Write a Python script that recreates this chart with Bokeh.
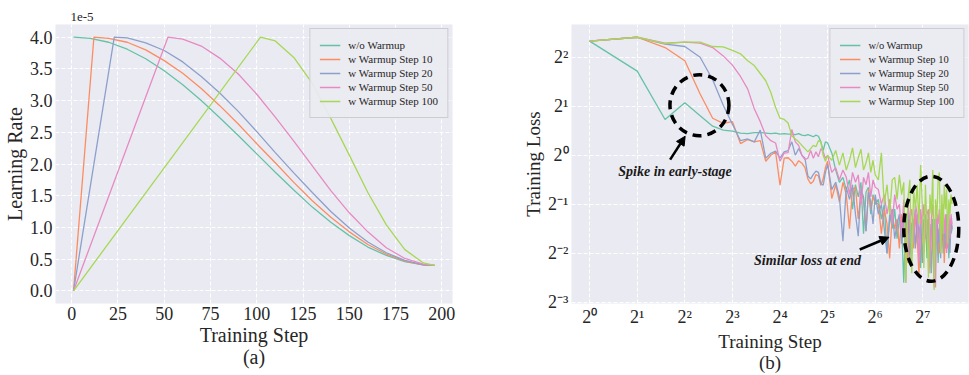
from bokeh.plotting import figure
from bokeh.layouts import row
from bokeh.models import (FixedTicker, CustomJSTickFormatter, PrintfTickFormatter,
                          Arrow, NormalHead, Label)
from bokeh.embed import file_html
from bokeh.resources import INLINE

FONT = "Liberation Serif"
TXT = "#262626"
BG = "#EAEAF2"
COLORS = ["#66c2a5", "#fc8d62", "#8da0cb", "#e78ac3", "#a6d854"]
NAMES = ["w/o Warmup", "w Warmup Step 10", "w Warmup Step 20",
         "w Warmup Step 50", "w Warmup Step 100"]

# ---------------- (a) learning rate, in units of 1e-5 ----------------
LR_X_NO = [1, 10, 20, 30, 40, 50, 60, 70, 80, 90, 100, 110, 120, 130, 140, 150, 160, 170, 180, 190, 196]
LR_NO = [4.00, 3.98, 3.92, 3.81, 3.66, 3.47, 3.25, 3.00, 2.73, 2.45, 2.16, 1.87, 1.59, 1.32, 1.08,
         0.87, 0.69, 0.56, 0.46, 0.41, 0.40]
LR_X_W10 = [1, 12, 20, 30, 40, 50, 60, 70, 80, 90, 100, 110, 120, 130, 140, 150, 160, 170, 180, 190, 196]
LR_W10 = [0.00, 4.00, 3.98, 3.92, 3.80, 3.63, 3.43, 3.19, 2.92, 2.63, 2.32, 2.02, 1.71, 1.42, 1.16,
          0.93, 0.73, 0.58, 0.47, 0.41, 0.40]
LR_X_W20 = [1, 23, 30, 40, 50, 60, 70, 80, 90, 100, 110, 120, 130, 140, 150, 160, 170, 180, 190, 196]
LR_W20 = [0.00, 4.00, 3.99, 3.91, 3.79, 3.61, 3.38, 3.12, 2.83, 2.51, 2.18, 1.86, 1.55, 1.25, 0.99,
          0.77, 0.60, 0.48, 0.41, 0.40]
LR_X_W50 = [1, 52, 60, 70, 80, 90, 100, 110, 120, 130, 140, 150, 160, 170, 180, 190, 196]
LR_W50 = [0.00, 4.00, 3.97, 3.86, 3.67, 3.42, 3.10, 2.74, 2.36, 1.97, 1.58, 1.23, 0.93, 0.68, 0.51,
          0.42, 0.40]
LR_X_W100 = [1, 102, 110, 120, 130, 140, 150, 160, 170, 180, 190, 196]
LR_W100 = [0.00, 4.00, 3.94, 3.68, 3.27, 2.72, 2.14, 1.55, 1.04, 0.65, 0.44, 0.40]

A_XTICKS = [0, 25, 50, 75, 100, 125, 150, 175, 200]
A_YTICKS = [0.0, 0.5, 1.0, 1.5, 2.0, 2.5, 3.0, 3.5, 4.0]

# ---------------- (b) training loss ----------------
STEPS = [1, 2, 3, 4, 5, 6, 7, 8, 9, 10, 11, 12, 13, 14, 15, 16,
         17, 18, 19, 20, 21, 22, 23, 24, 25, 26, 27, 28, 29, 30, 31, 32,
         34, 36, 38, 40, 42, 44, 46, 48, 50, 52, 54, 56, 58, 60, 62, 64,
         67, 70, 73, 76, 79, 82, 85, 88, 91, 94, 97, 100,
         103, 106, 109, 112, 115, 118, 121, 124, 127, 130, 133, 136,
         139, 142, 145, 148, 151, 154, 157, 160, 163, 166, 169, 172,
         175, 178, 181, 184, 187, 190, 193, 196]

LOSS_NO = [5.03, 3.29, 1.66, 2.10, 1.75, 1.51, 1.43, 1.41,
           1.37, 1.36, 1.38, 1.38, 1.37, 1.36, 1.37, 1.35,
           1.36, 1.35, 1.35, 1.34, 1.36, 1.33, 1.32, 1.34,
           1.32, 1.30, 1.33, 1.31, 1.21, 1.07, 1.21, 1.19,
           1.035, 0.812, 0.683, 0.732, 0.616, 0.707, 0.467, 0.660, 0.555, 0.683, 0.330, 0.595, 0.637, 0.435, 0.574, 0.500,
           0.536, 0.406, 0.500, 0.250, 0.435, 0.354, 0.467, 0.308, 0.406, 0.379, 0.165, 0.435,
           0.330, 0.406, 0.250, 0.379, 0.467, 0.287, 0.354, 0.203, 0.406, 0.308, 0.435, 0.233,
           0.354, 0.379, 0.189, 0.330, 0.406, 0.268, 0.354, 0.218, 0.379, 0.308, 0.435, 0.250,
           0.330, 0.406, 0.287, 0.354, 0.233, 0.379, 0.330, 0.354]
LOSS_W10 = [5.03, 5.31, 4.59, 3.81, 2.38, 1.69, 1.57, 1.61,
            1.18, 1.25, 1.21, 1.23, 0.92, 1.00, 1.05, 0.655,
            0.96, 0.966, 0.92, 0.858, 0.927, 0.895, 0.841, 0.717,
            0.669, 0.693, 0.763, 0.747, 0.655, 0.717, 0.841, 0.92,
            0.543, 0.660, 0.518, 0.683, 0.574, 0.354, 0.616, 0.637, 0.406, 0.595, 0.536, 0.342, 0.616, 0.467, 0.555, 0.518,
            0.500, 0.330, 0.467, 0.379, 0.233, 0.435, 0.354, 0.406, 0.268, 0.435, 0.330, 0.379,
            0.218, 0.406, 0.354, 0.268, 0.435, 0.330, 0.177, 0.379, 0.406, 0.250, 0.354, 0.406,
            0.287, 0.203, 0.379, 0.330, 0.154, 0.406, 0.308, 0.354, 0.250, 0.406, 0.330, 0.379,
            0.218, 0.354, 0.406, 0.268, 0.379, 0.308, 0.406, 0.354]
LOSS_W20 = [5.03, 5.31, 4.82, 4.66, 4.00, 2.91, 2.03, 1.55,
            1.23, 1.26, 1.21, 1.43, 0.96, 1.03, 1.06, 0.96,
            1.05, 1.07, 1.21, 1.00, 1.10, 1.00, 0.96, 0.747,
            0.717, 0.763, 0.80, 0.785, 0.669, 0.655, 0.785, 0.877,
            0.616, 0.683, 0.555, 0.297, 0.637, 0.536, 0.660, 0.435, 0.319, 0.616, 0.555, 0.342, 0.595, 0.518, 0.379, 0.574,
            0.435, 0.500, 0.354, 0.250, 0.406, 0.467, 0.308, 0.379, 0.435, 0.287, 0.406, 0.354,
            0.467, 0.233, 0.379, 0.406, 0.268, 0.435, 0.330, 0.379, 0.218, 0.406, 0.354, 0.287,
            0.435, 0.250, 0.354, 0.406, 0.177, 0.379, 0.435, 0.287, 0.354, 0.233, 0.406, 0.330,
            0.379, 0.268, 0.435, 0.308, 0.379, 0.250, 0.406, 0.354]
LOSS_W50 = [5.03, 5.31, 4.89, 4.96, 4.89, 4.59, 4.08, 3.58,
            3.05, 2.55, 1.93, 1.61, 1.32, 1.23, 1.19, 0.92,
            1.03, 1.04, 1.44, 1.21, 1.15, 1.00, 0.94, 0.96,
            1.07, 0.96, 1.05, 0.98, 1.10, 1.05, 0.96, 1.00,
            0.785, 0.841, 0.707, 0.812, 0.732, 0.574, 0.785, 0.683, 0.758, 0.500, 0.732, 0.660, 0.785, 0.555, 0.707, 0.637,
            0.616, 0.500, 0.574, 0.435, 0.536, 0.379, 0.574, 0.467, 0.500, 0.330, 0.536, 0.165,
            0.500, 0.406, 0.467, 0.287, 0.500, 0.435, 0.218, 0.467, 0.379, 0.500, 0.308, 0.435,
            0.467, 0.189, 0.406, 0.500, 0.354, 0.154, 0.435, 0.379, 0.467, 0.268, 0.406, 0.500,
            0.330, 0.435, 0.250, 0.406, 0.467, 0.308, 0.435, 0.379]
LOSS_W100 = [5.03, 5.31, 4.86, 4.96, 4.96, 4.66, 4.63, 4.41,
             4.20, 3.81, 3.56, 3.18, 2.87, 2.43, 1.97, 1.69,
             1.66, 1.58, 1.32, 1.26, 1.21, 1.15, 1.10, 1.05,
             1.10, 1.15, 1.13, 1.23, 1.21, 1.00, 0.92, 1.00,
             0.933, 1.07, 0.871, 1.035, 0.812, 0.933, 1.11, 0.841, 0.966, 1.09, 0.812, 0.90, 1.035, 0.785, 0.933, 0.758,
             0.707, 1.035, 0.500, 0.660, 0.435, 0.707, 0.732, 0.536, 0.758, 0.574, 0.683, 0.165,
             0.536, 0.707, 0.189, 0.616, 0.467, 0.660, 0.379, 0.871, 0.500, 0.203, 0.660, 0.354,
             0.177, 0.574, 0.435, 0.812, 0.149, 0.536, 0.406, 0.707, 0.785, 0.250, 0.574, 0.330,
             0.660, 0.467, 0.616, 0.287, 0.536, 0.435, 0.574, 0.500]

B_XTICKS = [1, 2, 4, 8, 16, 32, 64, 128]
B_YTICKS = [0.125, 0.25, 0.5, 1, 2, 4]

# annotations (data coordinates on the log axes)
SPIKE_TEXT = "Spike in early-stage"
SPIKE_TEXT_POS = (3.47, 0.80)
SPIKE_ARROW = (3.23, 0.94, 4.02, 1.31)
SPIKE_ELLIPSE = (4.95, 2.03, 59, 61)
END_TEXT = "Similar loss at end"
END_TEXT_POS = (23.9, 0.227)
END_ARROW = (51.1, 0.264, 78.2, 0.314)
END_ELLIPSE = (144.8, 0.354, 55, 105)


def style(p, tick_size, label_size):
    p.background_fill_color = BG
    p.border_fill_color = "white"
    p.outline_line_color = None
    for ax in p.axis:
        ax.axis_line_color = None
        ax.major_tick_line_color = None
        ax.minor_tick_line_color = None
        ax.major_tick_out = 0
        ax.major_tick_in = 0
        ax.major_label_text_font = FONT
        ax.major_label_text_font_size = tick_size
        ax.major_label_text_color = TXT
        ax.major_label_standoff = 3
        ax.axis_label_text_font = FONT
        ax.axis_label_text_font_size = label_size
        ax.axis_label_text_font_style = "normal"
        ax.axis_label_text_color = TXT
        ax.axis_label_standoff = 1
        ax.axis_label_text_line_height = 1.0
    for g in p.grid:
        g.grid_line_color = "white"
        g.grid_line_width = 1
        g.grid_line_dash = "4 2"


def style_legend(p, font_size, row_h):
    lg = p.legend[0]
    lg.location = "top_right"
    lg.margin = 4
    lg.padding = 9
    lg.spacing = 0
    lg.label_height = row_h
    lg.glyph_height = row_h
    lg.glyph_width = 21
    lg.label_standoff = 8
    lg.label_text_font = FONT
    lg.label_text_font_size = font_size
    lg.label_text_color = TXT
    lg.background_fill_color = BG
    lg.background_fill_alpha = 0.92
    lg.border_line_color = "#b0b0b0"
    lg.border_line_width = 1.2


# ---------------- figure (a) ----------------
p1 = figure(width=480, height=375, output_backend="svg", toolbar_location=None,
            x_range=(-8.75, 205.75), y_range=(-0.2, 4.2),
            title="1e-5", min_border_left=54, min_border_right=28, min_border_top=24,
            min_border_bottom=0)
p1.title.align = "left"
p1.title.offset = 15
p1.title.text_font = FONT
p1.title.text_font_size = "13px"
p1.title.text_font_style = "normal"
p1.title.text_color = TXT
p1.title.standoff = 7

for xs, ys, c, n in zip([LR_X_NO, LR_X_W10, LR_X_W20, LR_X_W50, LR_X_W100],
                        [LR_NO, LR_W10, LR_W20, LR_W50, LR_W100], COLORS, NAMES):
    p1.line(xs, ys, line_color=c, line_width=1.3, legend_label=n)

p1.xaxis.ticker = FixedTicker(ticks=A_XTICKS)
p1.yaxis.ticker = FixedTicker(ticks=A_YTICKS)
p1.yaxis.formatter = PrintfTickFormatter(format="%.1f")
p1.xaxis.axis_label = "Training Step\n(a)"
p1.yaxis.axis_label = "Learning Rate"
style(p1, "18px", "20px")
style_legend(p1, "11px", 14)

# ---------------- figure (b) ----------------
p2 = figure(width=489, height=375, output_backend="svg", toolbar_location=None,
            x_axis_type="log", y_axis_type="log",
            x_range=(0.768, 249), y_range=(0.123, 6.36),
            min_border_left=91, min_border_right=1, min_border_top=21, min_border_bottom=0)

for ys, c, n in zip([LOSS_NO, LOSS_W10, LOSS_W20, LOSS_W50, LOSS_W100], COLORS, NAMES):
    p2.line(STEPS, ys, line_color=c, line_width=1.3, legend_label=n)

SUP = CustomJSTickFormatter(code=r"""
const m = {"-": "\u207b", "0": "\u2070", "1": "\u00b9", "2": "\u00b2", "3": "\u00b3",
           "4": "\u2074", "5": "\u2075", "6": "\u2076", "7": "\u2077", "8": "\u2078", "9": "\u2079"};
const e = Math.round(Math.log2(tick));
return "2" + String(e).split("").map(c => m[c]).join("");
""")
p2.xaxis.ticker = FixedTicker(ticks=B_XTICKS)
p2.yaxis.ticker = FixedTicker(ticks=B_YTICKS)
p2.xaxis.formatter = SUP
p2.yaxis.formatter = SUP
p2.xaxis.axis_label = "Training Step\n(b)"
p2.yaxis.axis_label = "Training Loss"
style(p2, "18px", "19px")
style_legend(p2, "10.5px", 14)

for (ex, ey, ew, eh) in [SPIKE_ELLIPSE, END_ELLIPSE]:
    p2.ellipse(x=[ex], y=[ey], width=[ew], height=[eh], width_units="screen",
               height_units="screen", fill_color=None, line_color="black",
               line_width=3.5, line_dash="9 6")

for (x0, y0, x1, y1) in [SPIKE_ARROW, END_ARROW]:
    p2.add_layout(Arrow(end=NormalHead(size=9, fill_color="black", line_color="black"),
                        x_start=x0, y_start=y0, x_end=x1, y_end=y1,
                        line_color="black", line_width=2.5))

for txt, (tx, ty) in [(SPIKE_TEXT, SPIKE_TEXT_POS), (END_TEXT, END_TEXT_POS)]:
    p2.add_layout(Label(x=tx, y=ty, text=txt, text_align="center", text_baseline="middle",
                        text_font=FONT, text_font_style="bold italic", text_font_size="14px",
                        text_color="#1a1a1a"))

layout = row(p1, p2)
open("out.html", "w").write(file_html(layout, INLINE))
